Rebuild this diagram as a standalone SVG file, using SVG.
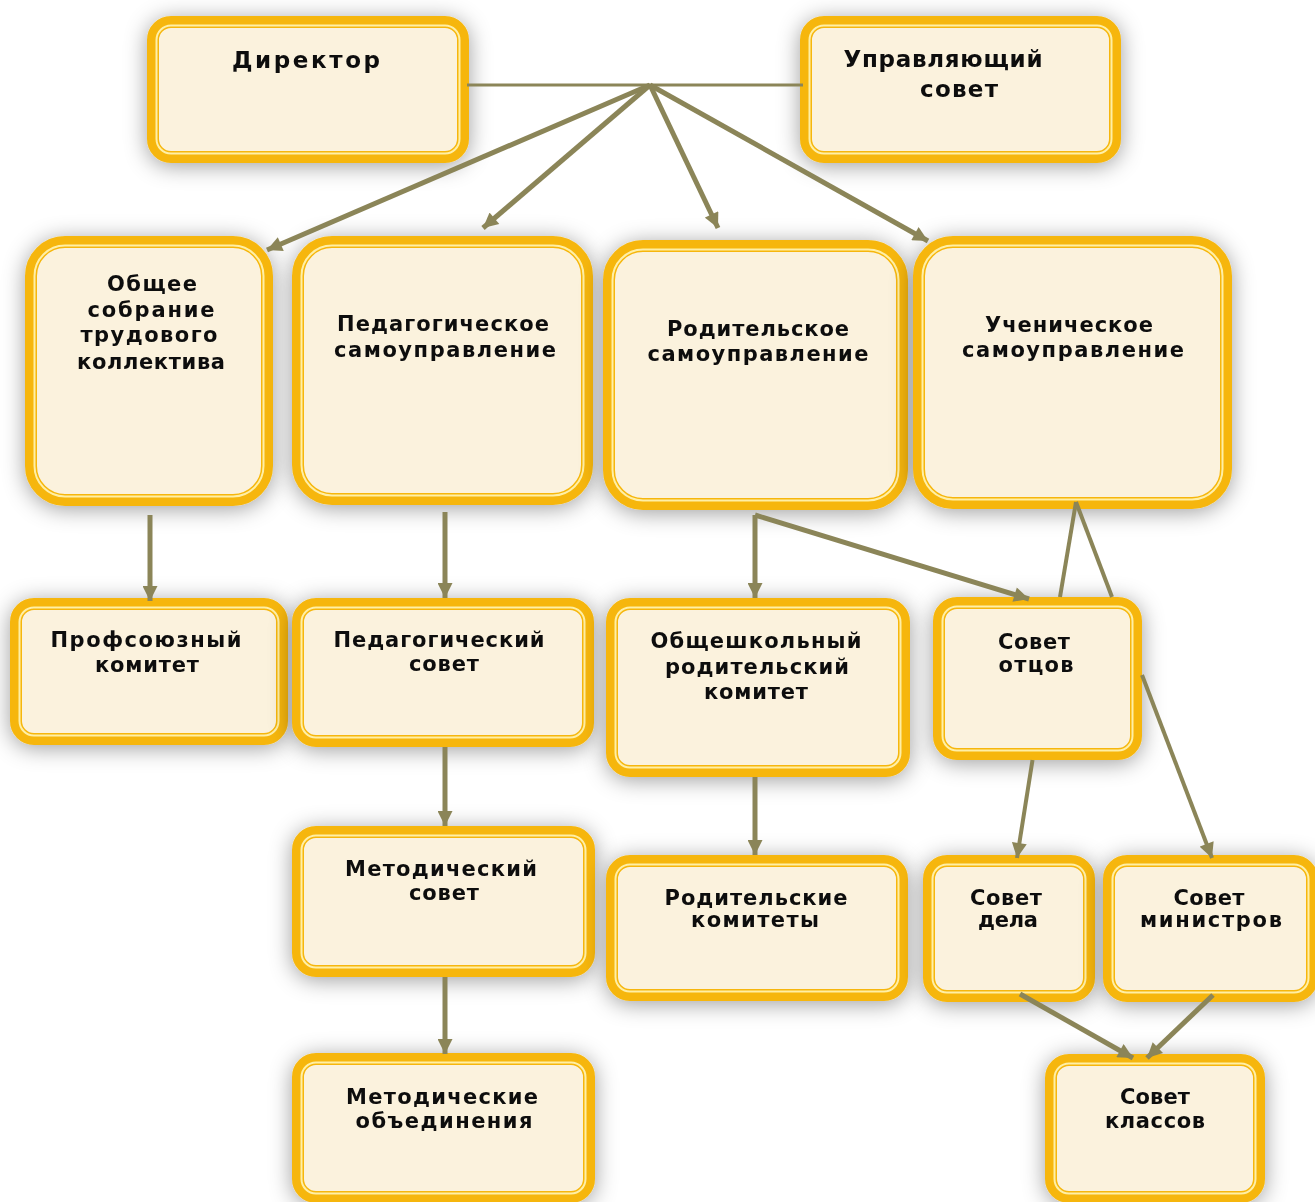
<svg xmlns="http://www.w3.org/2000/svg" width="1315" height="1202" viewBox="0 0 1315 1202">
<style>
.o{fill:#FBF2DD;stroke:#F6B60A;stroke-width:12}
.i{fill:none;stroke:#FFEFA6;stroke-width:2}
.box{filter:url(#sh)}
text{font-family:"DejaVu Sans","Liberation Sans",sans-serif;font-weight:bold;font-size:21px;fill:#111;text-anchor:middle}
.big{font-size:23px}
.c{stroke:#8B8558;stroke-width:5;fill:none}
.t{stroke-width:4}
.h{stroke-width:3}
.a{marker-end:url(#ah)}
</style>
<defs>
<filter id="sh" x="-25%" y="-25%" width="150%" height="150%">
<feDropShadow dx="0" dy="3" stdDeviation="11" flood-color="#000" flood-opacity="0.38"/>
</filter>
<marker id="ah" viewBox="0 0 10 10" refX="10" refY="5" markerWidth="16" markerHeight="15" markerUnits="userSpaceOnUse" orient="auto">
<path d="M0,0 L10,5 L0,10 z" fill="#8B8558"/>
</marker>
</defs>
<rect width="1315" height="1202" fill="#fff"/>

<g id="director" class="box"><rect class="o" x="153" y="22" width="310" height="135" rx="18"/><rect class="i" x="156.5" y="25.5" width="303" height="128" rx="14.5"/><text class="big" x="306" y="68" textLength="148">Директор</text></g>
<g id="council" class="box"><rect class="o" x="806" y="22" width="309" height="135" rx="18"/><rect class="i" x="809.5" y="25.5" width="302" height="128" rx="14.5"/><text class="big" x="943" y="67" textLength="199">Управляющий</text><text class="big" x="959" y="97" textLength="78">совет</text></g>

<g id="general-meeting" class="box"><rect class="o" x="31" y="242" width="236" height="258" rx="34"/><rect class="i" x="34.5" y="245.5" width="229" height="251" rx="30.5"/><text x="152" y="291" textLength="90">Общее</text><text x="151" y="317" textLength="127">собрание</text><text x="149" y="342" textLength="137">трудового</text><text x="151" y="369" textLength="148">коллектива</text></g>
<g id="ped-self" class="box"><rect class="o" x="298" y="242" width="289" height="257" rx="34"/><rect class="i" x="301.5" y="245.5" width="282" height="250" rx="30.5"/><text x="443" y="331" textLength="212">Педагогическое</text><text x="445" y="357" textLength="222">самоуправление</text></g>
<g id="parent-self" class="box"><rect class="o" x="609" y="246" width="293" height="258" rx="34"/><rect class="i" x="612.5" y="249.5" width="286" height="251" rx="30.5"/><text x="758" y="336" textLength="182">Родительское</text><text x="758" y="361" textLength="221">самоуправление</text></g>
<g id="student-self" class="box"><rect class="o" x="919" y="242" width="307" height="261" rx="34"/><rect class="i" x="922.5" y="245.5" width="300" height="254" rx="30.5"/><text x="1069" y="332" textLength="168">Ученическое</text><text x="1073" y="357" textLength="222">самоуправление</text></g>

<g id="union" class="box"><rect class="o" x="16" y="604" width="266" height="135" rx="18"/><rect class="i" x="19.5" y="607.5" width="259" height="128" rx="14.5"/><text x="146" y="647" textLength="191">Профсоюзный</text><text x="147" y="672" textLength="104">комитет</text></g>
<g id="ped-council" class="box"><rect class="o" x="298" y="604" width="290" height="137" rx="18"/><rect class="i" x="301.5" y="607.5" width="283" height="130" rx="14.5"/><text x="439" y="647" textLength="211">Педагогический</text><text x="444" y="671" textLength="70">совет</text></g>
<g id="school-parent-committee" class="box"><rect class="o" x="612" y="604" width="292" height="167" rx="18"/><rect class="i" x="615.5" y="607.5" width="285" height="160" rx="14.5"/><text x="756" y="648" textLength="211">Общешкольный</text><text x="757" y="674" textLength="184">родительский</text><text x="756" y="699" textLength="104">комитет</text></g>
<g id="fathers" class="box"><rect class="o" x="939" y="603" width="197" height="151" rx="18"/><rect class="i" x="942.5" y="606.5" width="190" height="144" rx="14.5"/><text x="1034" y="649" textLength="72">Совет</text><text x="1036" y="672" textLength="75">отцов</text></g>

<g id="method-council" class="box"><rect class="o" x="298" y="832" width="291" height="139" rx="18"/><rect class="i" x="301.5" y="835.5" width="284" height="132" rx="14.5"/><text x="441" y="876" textLength="192">Методический</text><text x="444" y="900" textLength="70">совет</text></g>
<g id="parent-committees" class="box"><rect class="o" x="612" y="861" width="290" height="134" rx="18"/><rect class="i" x="615.5" y="864.5" width="283" height="127" rx="14.5"/><text x="756" y="905" textLength="183">Родительские</text><text x="755" y="927" textLength="128">комитеты</text></g>
<g id="deed-council" class="box"><rect class="o" x="929" y="861" width="160" height="135" rx="18"/><rect class="i" x="932.5" y="864.5" width="153" height="128" rx="14.5"/><text x="1006" y="905" textLength="72">Совет</text><text x="1008" y="927" textLength="60">дела</text></g>
<g id="ministers" class="box"><rect class="o" x="1109" y="861" width="203" height="135" rx="18"/><rect class="i" x="1112.5" y="864.5" width="196" height="128" rx="14.5"/><text x="1209" y="905" textLength="71">Совет</text><text x="1211" y="927" textLength="142">министров</text></g>

<g id="method-unions" class="box"><rect class="o" x="298" y="1059" width="291" height="138" rx="18"/><rect class="i" x="301.5" y="1062.5" width="284" height="131" rx="14.5"/><text x="442" y="1104" textLength="192">Методические</text><text x="444" y="1128" textLength="177">объединения</text></g>
<g id="classes" class="box"><rect class="o" x="1051" y="1060" width="208" height="137" rx="18"/><rect class="i" x="1054.5" y="1063.5" width="201" height="130" rx="14.5"/><text x="1155" y="1104" textLength="70">Совет</text><text x="1155" y="1128" textLength="100">классов</text></g>

<g id="connectors">
<path class="c h" d="M467,85 H803"/>
<path class="c a" d="M650,85 L267,250"/>
<path class="c a" d="M650,85 L483,228"/>
<path class="c a" d="M650,85 L718,228"/>
<path class="c a" d="M650,85 L928,241"/>
<path class="c a" d="M150,515 V601"/>
<path class="c a" d="M445,512 V598"/>
<path class="c a" d="M755,515 V598"/>
<path class="c a" d="M755,515 L1029,599"/>
<path class="c t" d="M1076,502 L1060,597"/>
<path class="c t a" d="M1032.5,760 L1017,858"/>
<path class="c t" d="M1076,502 L1112,597"/>
<path class="c t a" d="M1142,675 L1212,858"/>
<path class="c a" d="M445,747 V826"/>
<path class="c a" d="M445,977 V1054"/>
<path class="c a" d="M755,777 V855"/>
<path class="c a" d="M1020,994 L1133,1058"/>
<path class="c a" d="M1213,995 L1147,1058"/>
</g>
</svg>
